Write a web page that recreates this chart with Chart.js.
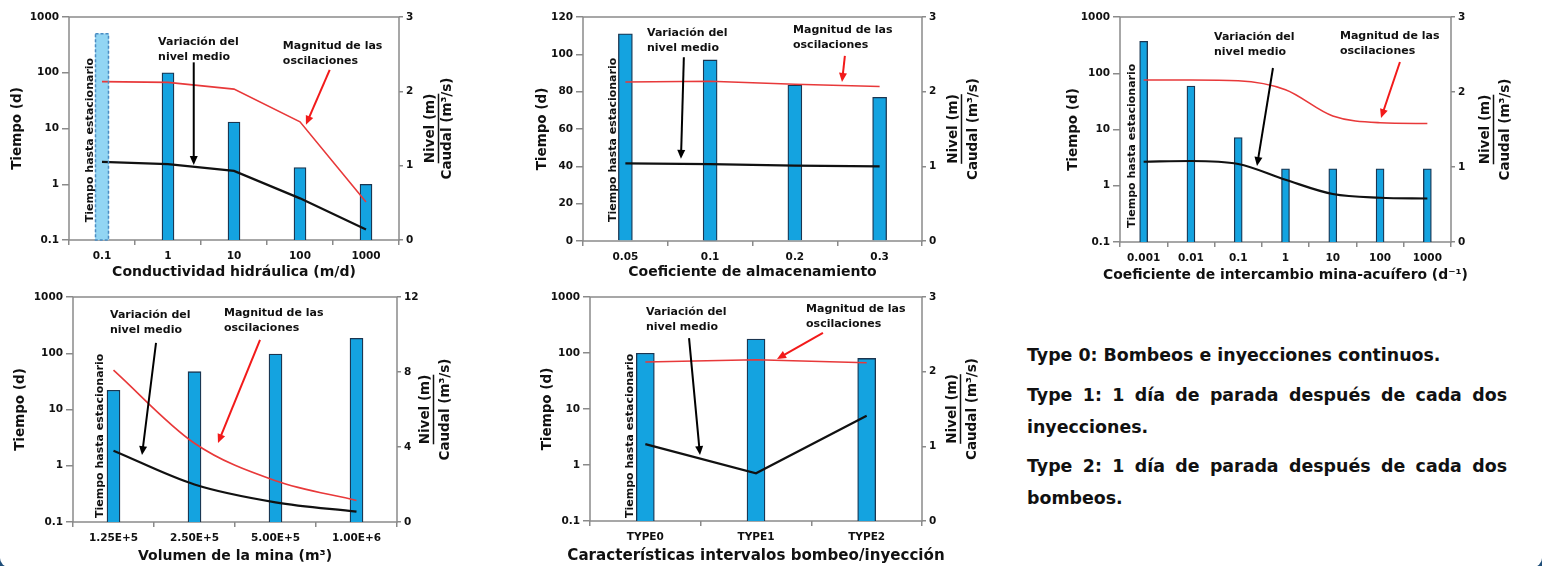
<!DOCTYPE html>
<html>
<head>
<meta charset="utf-8">
<script src="https://cdn.jsdelivr.net/npm/chart.js@4.4.1/dist/chart.umd.min.js"></script>
<style>
html, body { margin: 0; padding: 0; }
body { width: 1542px; height: 566px; background: #1f4e79; overflow: hidden; position: relative; }
#panel { position: absolute; left: 0; top: 0; width: 1542px; height: 567px; background: #fff; border-radius: 0 0 9px 9px; }
canvas { position: absolute; }
#notes { position: absolute; left: 1027px; top: 339px; width: 480px; font: bold 17.4px "DejaVu Sans", sans-serif; color: #111; text-align: justify; }
#notes p { margin: 0 0 7.5px 0; line-height: 32px; }
</style>
</head>
<body>
<div id="panel">
	<div id="notes">
		<p>Type 0: Bombeos e inyecciones continuos.</p>
		<p>Type 1: 1 día de parada después de cada dos inyecciones.</p>
		<p>Type 2: 1 día de parada después de cada dos bombeos.</p>
	</div>
</div>
<script>
// tick labels
const logTicks = [0.1, 1, 10, 100, 1000];
const linTicks = [0, 20, 40, 60, 80, 100, 120];
const rightTicks = [0, 1, 2, 3];
const rightTicksVol = [0, 4, 8, 12];

// conductividad hidraulica
const cats1 = ['0.1', '1', '10', '100', '1000'];
const tiempo1 = [null, 100, 13, 2, 1];
const tiempo1Ref = [500, null, null, null, null];
const nivel1 = [1.05, 1.02, 0.93, 0.56, 0.14];
const magnitud1 = [2.13, 2.12, 2.03, 1.59, 0.51];

// coeficiente de almacenamiento
const cats2 = ['0.05', '0.1', '0.2', '0.3'];
const tiempo2 = [111, 97, 83.5, 77];
const nivel2 = [1.04, 1.03, 1.01, 1.00];
const magnitud2 = [2.13, 2.14, 2.10, 2.07];

// coeficiente de intercambio
const cats3 = ['0.001', '0.01', '0.1', '1', '10', '100', '1000'];
const tiempo3 = [370, 59, 7.2, 2, 2, 2, 2];
const nivel3 = [1.07, 1.08, 1.04, 0.83, 0.64, 0.59, 0.58];
const magnitud3 = [2.16, 2.16, 2.15, 2.03, 1.68, 1.59, 1.58];

// volumen de la mina
const cats4 = ['1.25E+5', '2.50E+5', '5.00E+5', '1.00E+6'];
const tiempo4 = [22, 47, 97, 184];
const nivel4 = [3.8, 2.0, 1.05, 0.55];
const magnitud4 = [8.1, 4.2, 2.2, 1.15];

// intervalos bombeo/inyeccion
const cats5 = ['TYPE0', 'TYPE1', 'TYPE2'];
const tiempo5 = [99, 178, 80];
const nivel5 = [1.03, 0.64, 1.41];
const magnitud5 = [2.13, 2.16, 2.12];

const FAM = '"DejaVu Sans", sans-serif';
const f = (size) => ({ family: FAM, size: size, weight: 'bold' });
const GRAY = '#8a8a8a';
const INK = '#111';

function arrow(c, x1, y1, x2, y2, color) {
	const a = Math.atan2(y2 - y1, x2 - x1), L = 9, H = 4;
	c.strokeStyle = color;
	c.fillStyle = color;
	c.lineWidth = 2;
	c.beginPath();
	c.moveTo(x1, y1);
	c.lineTo(x2 - L * 0.8 * Math.cos(a), y2 - L * 0.8 * Math.sin(a));
	c.stroke();
	c.beginPath();
	c.moveTo(x2, y2);
	c.lineTo(x2 - L * Math.cos(a) + H * Math.sin(a), y2 - L * Math.sin(a) - H * Math.cos(a));
	c.lineTo(x2 - L * Math.cos(a) - H * Math.sin(a), y2 - L * Math.sin(a) + H * Math.cos(a));
	c.closePath();
	c.fill();
}

const notesPlugin = {
	id: 'notes',
	beforeDatasetsDraw(chart) {
		const a = chart.chartArea, c = chart.ctx;
		c.save();
		c.strokeStyle = GRAY;
		c.lineWidth = 1.5;
		c.strokeRect(a.left, a.top, a.right - a.left, a.bottom - a.top);
		c.restore();
	},
	afterDatasetsDraw(chart, args, o) {
		const c = chart.ctx, a = chart.chartArea;
		const X = i => chart.scales.x.getPixelForValue(i);
		const Y = v => chart.scales.y2.getPixelForValue(v);
		c.save();

		// dashed reference bar
		chart.data.datasets.forEach((ds, k) => {
			if (!ds.dashed) return;
			chart.getDatasetMeta(k).data.forEach((el, j) => {
				if (ds.data[j] == null) return;
				const p = el.getProps(['x', 'y', 'base', 'width'], true);
				c.setLineDash([3, 2]);
				c.strokeStyle = '#4a8cc2';
				c.lineWidth = 1.5;
				c.strokeRect(p.x - p.width / 2, p.y, p.width, p.base - p.y);
				c.setLineDash([]);
			});
		});

		c.font = 'bold 11px ' + FAM;
		c.fillStyle = INK;
		c.textAlign = 'left';
		c.textBaseline = 'middle';
		o.labels.forEach(l => {
			l.lines.forEach((t, j) => c.fillText(t, X(l.i), Y(l.v) + j * 15));
		});

		arrow(c, X(o.black[0][0]), Y(o.black[0][1]), X(o.black[1][0]), Y(o.black[1][1]), '#000');
		arrow(c, X(o.red[0][0]), Y(o.red[0][1]), X(o.red[1][0]), Y(o.red[1][1]), '#f21a1a');

		c.fillStyle = INK;
		c.save();
		c.translate(X(o.vt.i), Y(o.vt.v));
		c.rotate(-Math.PI / 2);
		c.textAlign = 'left';
		c.fillText('Tiempo hasta estacionario', 0, 0);
		c.restore();

		// x title, drawn without width squeeze
		c.font = 'bold ' + o.xFont + 'px ' + FAM;
		c.textAlign = 'center';
		c.fillText(o.xTitle, (a.left + a.right) / 2, a.bottom + o.xty);

		const my = (a.top + a.bottom) / 2;
		c.font = 'bold 13.5px ' + FAM;
		c.save();
		c.translate(a.right + o.rt[0], my);
		c.rotate(-Math.PI / 2);
		c.fillText('Nivel (m)', 0, 0);
		const w = c.measureText('Nivel (m)').width;
		c.strokeStyle = INK;
		c.lineWidth = 1.5;
		c.beginPath();
		c.moveTo(-w / 2, 8.5);
		c.lineTo(w / 2, 8.5);
		c.stroke();
		c.restore();
		c.save();
		c.translate(a.right + o.rt[1], my);
		c.rotate(-Math.PI / 2);
		c.fillText('Caudal (m³/s)', 0, 0);
		c.restore();

		c.restore();
	}
};

function makeChart(s) {
	const cv = document.createElement('canvas');
	cv.width = s.w;
	cv.height = s.h;
	cv.style.left = s.x + 'px';
	cv.style.top = s.y + 'px';
	document.getElementById('panel').appendChild(cv);

	const lineOpts = {
		type: 'line', yAxisID: 'y2', order: 1, pointRadius: 0,
		cubicInterpolationMode: s.smooth ? 'monotone' : 'default', tension: 0
	};
	const datasets = [
		Object.assign({ data: s.magnitud, borderColor: '#e8393a', borderWidth: 1.6 }, lineOpts),
		Object.assign({ data: s.nivel, borderColor: '#111', borderWidth: 2.2 }, lineOpts),
		{ type: 'bar', data: s.tiempo, yAxisID: 'y', order: 2, grouped: false,
			backgroundColor: '#14a3e0', borderColor: '#1b3550', borderWidth: 1.3, barThickness: s.barW }
	];
	if (s.tiempoRef) {
		datasets.push({ type: 'bar', data: s.tiempoRef, yAxisID: 'y', order: 3, grouped: false, dashed: true,
			backgroundColor: '#92d5f3', borderWidth: 0, barThickness: s.barW + 1 });
	}

	const yLeft = s.log
		? { type: 'logarithmic', min: 0.1, max: 1000, afterBuildTicks: sc => { sc.ticks = logTicks.map(v => ({ value: v })); } }
		: { type: 'linear', min: 0, max: 120, afterBuildTicks: sc => { sc.ticks = linTicks.map(v => ({ value: v })); } };
	Object.assign(yLeft, {
		position: 'left',
		afterFit: sc => { sc.width = s.lw; },
		border: { display: false },
		grid: { drawOnChartArea: false, color: GRAY, lineWidth: 1.5, tickLength: 7 },
		ticks: { font: f(10.5), color: INK, padding: 3, autoSkip: false, callback: v => String(v) },
		title: { display: true, text: 'Tiempo (d)', font: f(13.5), color: INK, padding: 0 }
	});

	s.notes.xTitle = s.xTitle;
	s.notes.xFont = s.xFont || 14;
	s.notes.xty = s.xty;

	new Chart(cv, {
		type: 'bar',
		data: { labels: s.cats, datasets: datasets },
		options: {
			responsive: false,
			animation: false,
			devicePixelRatio: 1,
			layout: { padding: { top: s.pt, left: 0, right: 0, bottom: 0 } },
			plugins: {
				legend: { display: false },
				tooltip: { enabled: false },
				notes: s.notes
			},
			scales: {
				x: {
					offset: true,
					afterFit: sc => { sc.height = s.xh; },
					border: { display: false },
					grid: { offset: true, drawOnChartArea: false, color: GRAY, lineWidth: 1.5, tickLength: 5 },
					ticks: { font: f(10.5), color: INK, padding: 5, maxRotation: 0, autoSkip: false }
				},
				y: yLeft,
				y2: {
					type: 'linear',
					position: 'right',
					min: 0,
					max: s.right[s.right.length - 1],
					afterBuildTicks: sc => { sc.ticks = s.right.map(v => ({ value: v })); },
					afterFit: sc => { sc.width = s.rw; },
					border: { display: false },
					grid: { drawOnChartArea: false, color: GRAY, lineWidth: 1.5, tickLength: 4 },
					ticks: { font: f(10.5), color: INK, padding: 3, callback: v => String(v) }
				}
			}
		},
		plugins: [notesPlugin]
	});
}

const VAR = ['Variación del', 'nivel medio'];
const MAG = ['Magnitud de las', 'oscilaciones'];

makeChart({
	x: 9, y: 0, w: 452, h: 280, lw: 60, rw: 62, pt: 17, xh: 40, barW: 12, log: true, xty: 32,
	cats: cats1, tiempo: tiempo1, tiempoRef: tiempo1Ref, nivel: nivel1, magnitud: magnitud1, right: rightTicks,
	xTitle: 'Conductividad hidráulica (m/d)',
	notes: {
		labels: [{ i: 0.85, v: 2.66, lines: VAR }, { i: 2.74, v: 2.61, lines: MAG }],
		black: [[1.39, 2.39], [1.39, 1.01]], red: [[3.45, 2.29], [3.09, 1.55]],
		vt: { i: -0.18, v: 0.24 }, rt: [31, 48]
	}
});

makeChart({
	x: 534, y: 0, w: 450, h: 280, lw: 49, rw: 62, pt: 17, xh: 39, barW: 14, log: false, xty: 31,
	cats: cats2, tiempo: tiempo2, nivel: nivel2, magnitud: magnitud2, right: rightTicks,
	xTitle: 'Coeficiente de almacenamiento',
	notes: {
		labels: [{ i: 0.255, v: 2.785, lines: VAR }, { i: 1.978, v: 2.826, lines: MAG }],
		black: [[0.69, 2.46], [0.656, 1.10]], red: [[2.59, 2.48], [2.556, 2.13]],
		vt: { i: -0.146, v: 0.254 }, rt: [31, 51]
	}
});

makeChart({
	x: 1065, y: 0, w: 477, h: 283, lw: 55, rw: 91, pt: 17, xh: 41, barW: 8, log: true, smooth: true, xFont: 13.9, xty: 33,
	cats: cats3, tiempo: tiempo3, nivel: nivel3, magnitud: magnitud3, right: rightTicks,
	xTitle: 'Coeficiente de intercambio mina-acuífero (d⁻¹)',
	notes: {
		labels: [{ i: 1.488, v: 2.733, lines: VAR }, { i: 4.152, v: 2.747, lines: MAG }],
		black: [[2.735, 2.32], [2.397, 1.013]], red: [[5.42, 2.4], [5.02, 1.653]],
		vt: { i: -0.246, v: 0.187 }, rt: [34, 54]
	}
});

makeChart({
	x: 12, y: 280, w: 447, h: 284, lw: 61, rw: 62, pt: 17, xh: 42, barW: 13, log: true, smooth: true, xty: 34,
	cats: cats4, tiempo: tiempo4, nivel: nivel4, magnitud: magnitud4, right: rightTicksVol,
	xTitle: 'Volumen de la mina (m³)',
	notes: {
		labels: [{ i: -0.043, v: 11.04, lines: VAR }, { i: 1.364, v: 11.15, lines: MAG }],
		black: [[0.525, 9.55], [0.352, 3.57]], red: [[1.809, 9.71], [1.29, 4.21]],
		vt: { i: -0.167, v: 0.213 }, rt: [28, 48]
	}
});

makeChart({
	x: 539, y: 280, w: 445, h: 285, lw: 51, rw: 62, pt: 17, xh: 44, barW: 18, log: true, xFont: 15.1, xty: 35,
	cats: cats5, tiempo: tiempo5, nivel: nivel5, magnitud: magnitud5, right: rightTicks,
	xTitle: 'Características intervalos bombeo/inyección',
	notes: {
		labels: [{ i: 0.006, v: 2.80, lines: VAR }, { i: 1.452, v: 2.84, lines: MAG }],
		black: [[0.395, 2.45], [0.494, 0.884]], red: [[1.605, 2.52], [1.19, 2.17]],
		vt: { i: -0.139, v: 0.04 }, rt: [30, 50]
	}
});
</script>
</body>
</html>
